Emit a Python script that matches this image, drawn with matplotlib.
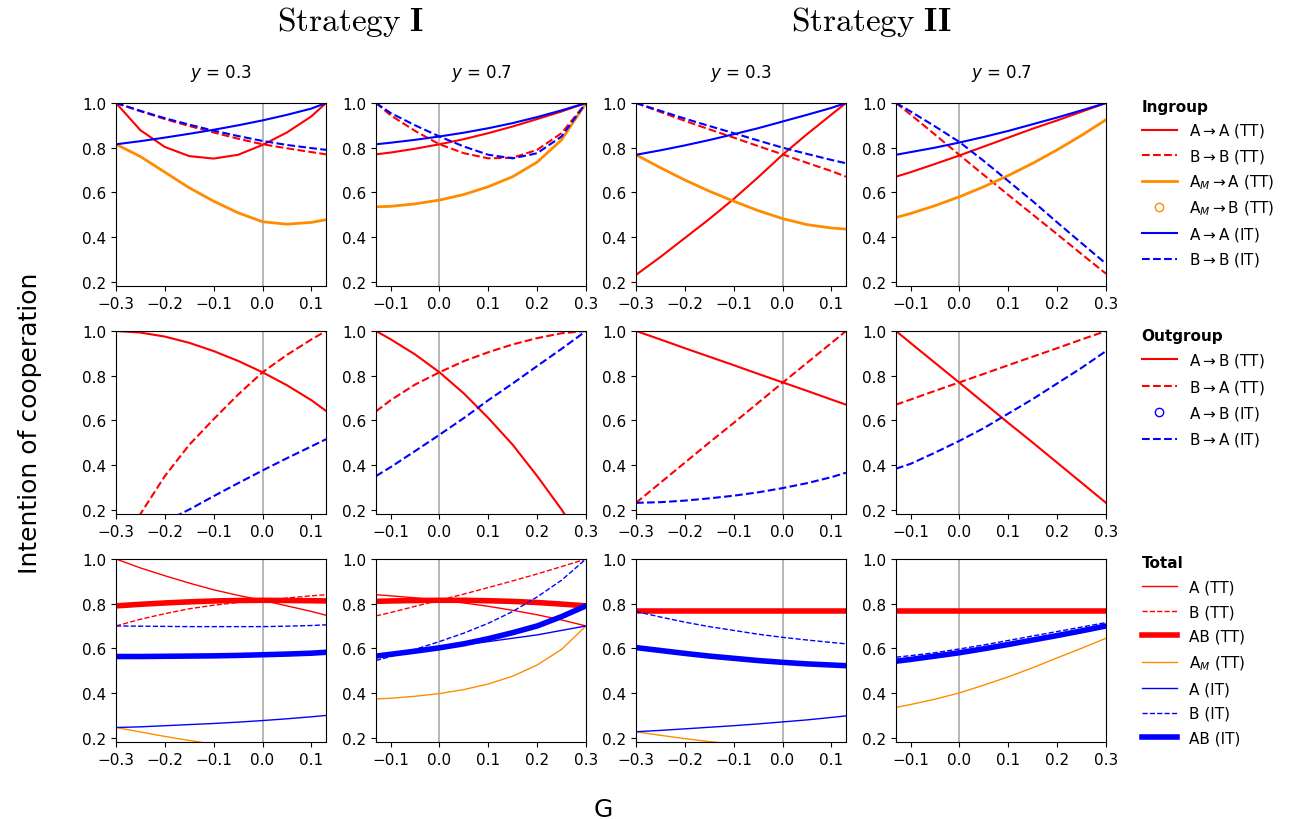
import matplotlib.pyplot as plt

# sample points along G for the two kinds of columns
XL = [-0.3, -0.25, -0.2, -0.15, -0.1, -0.05, 0.0, 0.05, 0.1, 0.13]
XR = [-0.13, -0.1, -0.05, 0.0, 0.05, 0.1, 0.15, 0.2, 0.25, 0.3]

col_titles = ['$y$ = 0.3', '$y$ = 0.7', '$y$ = 0.3', '$y$ = 0.7']
xticks_l = [-0.3, -0.2, -0.1, 0.0, 0.1]
xticks_r = [-0.1, 0.0, 0.1, 0.2, 0.3]
yticks = [0.2, 0.4, 0.6, 0.8, 1.0]

# ---- ingroup (row 1) ----
in1_aa_tt = [1.0, 0.878, 0.803, 0.762, 0.751, 0.768, 0.812, 0.868, 0.94, 1.0]
in1_bb_tt = [1.0, 0.963, 0.928, 0.897, 0.868, 0.84, 0.815, 0.797, 0.78, 0.77]
in1_ama_tt = [0.815, 0.76, 0.69, 0.62, 0.56, 0.508, 0.468, 0.457, 0.465, 0.477]
in1_aa_it = [0.815, 0.829, 0.845, 0.862, 0.88, 0.9, 0.922, 0.947, 0.975, 1.0]
in1_bb_it = [1.0, 0.965, 0.932, 0.903, 0.876, 0.852, 0.83, 0.812, 0.798, 0.79]

in2_aa_tt = [0.77, 0.778, 0.795, 0.815, 0.838, 0.865, 0.895, 0.928, 0.962, 1.0]
in2_bb_tt = [1.0, 0.945, 0.875, 0.815, 0.775, 0.752, 0.755, 0.79, 0.865, 1.0]
in2_ama_tt = [0.535, 0.537, 0.548, 0.565, 0.59, 0.625, 0.67, 0.735, 0.835, 1.0]
in2_aa_it = [0.815, 0.822, 0.835, 0.85, 0.867, 0.887, 0.91, 0.937, 0.967, 1.0]
in2_bb_it = [1.0, 0.955, 0.9, 0.85, 0.805, 0.768, 0.752, 0.775, 0.85, 1.0]

in3_aa_tt = [0.23, 0.31, 0.395, 0.48, 0.57, 0.667, 0.768, 0.86, 0.948, 1.0]
in3_bb_tt = [1.0, 0.96, 0.92, 0.882, 0.845, 0.807, 0.77, 0.732, 0.695, 0.67]
in3_ama_tt = [0.768, 0.71, 0.655, 0.605, 0.56, 0.518, 0.482, 0.455, 0.44, 0.435]
in3_aa_it = [0.768, 0.788, 0.81, 0.834, 0.86, 0.887, 0.917, 0.947, 0.978, 1.0]
in3_bb_it = [1.0, 0.965, 0.93, 0.897, 0.865, 0.832, 0.80, 0.772, 0.745, 0.73]

in4_aa_tt = [0.67, 0.69, 0.727, 0.765, 0.805, 0.845, 0.885, 0.922, 0.961, 1.0]
in4_bb_tt = [1.0, 0.948, 0.858, 0.767, 0.677, 0.588, 0.5, 0.412, 0.323, 0.235]
in4_ama_tt = [0.487, 0.505, 0.54, 0.58, 0.625, 0.675, 0.73, 0.79, 0.855, 0.925]
in4_aa_it = [0.768, 0.78, 0.8, 0.823, 0.848, 0.875, 0.905, 0.935, 0.967, 1.0]
in4_bb_it = [1.0, 0.962, 0.895, 0.825, 0.74, 0.65, 0.56, 0.465, 0.372, 0.28]

# ---- outgroup (row 2) ----
out1_ab_tt = [1.0, 0.993, 0.975, 0.947, 0.91, 0.866, 0.815, 0.757, 0.69, 0.642]
out1_ba_tt = [0.0, 0.18, 0.35, 0.49, 0.605, 0.715, 0.815, 0.893, 0.962, 1.0]
out1_ba_it = [0.03, 0.09, 0.145, 0.2, 0.26, 0.318, 0.375, 0.43, 0.483, 0.515]

out2_ab_tt = [1.0, 0.963, 0.895, 0.815, 0.72, 0.61, 0.49, 0.35, 0.2, 0.03]
out2_ba_tt = [0.64, 0.69, 0.76, 0.815, 0.865, 0.905, 0.94, 0.968, 0.99, 1.0]
out2_ba_it = [0.35, 0.39, 0.462, 0.535, 0.61, 0.69, 0.765, 0.843, 0.92, 1.0]

out3_ab_tt = [1.0, 0.962, 0.923, 0.885, 0.847, 0.808, 0.77, 0.732, 0.693, 0.67]
out3_ba_tt = [0.23, 0.32, 0.41, 0.5, 0.588, 0.678, 0.768, 0.857, 0.946, 1.0]
out3_ba_it = [0.23, 0.233, 0.24, 0.25, 0.262, 0.277, 0.296, 0.318, 0.345, 0.365]

out4_ab_tt = [1.0, 0.946, 0.857, 0.768, 0.678, 0.588, 0.5, 0.41, 0.32, 0.23]
out4_ba_tt = [0.67, 0.693, 0.732, 0.77, 0.808, 0.847, 0.885, 0.923, 0.962, 1.0]
out4_ba_it = [0.383, 0.405, 0.455, 0.508, 0.565, 0.63, 0.695, 0.765, 0.835, 0.91]

# ---- total (row 3) ----
tot1_a_tt = [1.0, 0.96, 0.925, 0.892, 0.862, 0.837, 0.815, 0.79, 0.765, 0.748]
tot1_b_tt = [0.70, 0.73, 0.755, 0.777, 0.793, 0.805, 0.815, 0.825, 0.835, 0.84]
tot1_ab_tt = [0.79, 0.797, 0.803, 0.808, 0.812, 0.814, 0.815, 0.814, 0.813, 0.812]
tot1_am_tt = [0.245, 0.225, 0.205, 0.187, 0.17, 0.155, 0.14, 0.125, 0.112, 0.105]
tot1_a_it = [0.245, 0.248, 0.253, 0.258, 0.263, 0.269, 0.276, 0.284, 0.293, 0.299]
tot1_b_it = [0.70, 0.699, 0.698, 0.697, 0.697, 0.697, 0.697, 0.699, 0.702, 0.705]
tot1_ab_it = [0.563, 0.563, 0.564, 0.565, 0.566, 0.568, 0.571, 0.574, 0.578, 0.582]

tot2_a_tt = [0.84, 0.835, 0.826, 0.816, 0.803, 0.788, 0.77, 0.75, 0.727, 0.70]
tot2_b_tt = [0.745, 0.76, 0.788, 0.815, 0.843, 0.872, 0.902, 0.933, 0.966, 1.0]
tot2_ab_tt = [0.81, 0.812, 0.814, 0.815, 0.815, 0.813, 0.81, 0.805, 0.798, 0.79]
tot2_am_tt = [0.373, 0.376, 0.385, 0.397, 0.415, 0.44, 0.475, 0.525, 0.595, 0.70]
tot2_a_it = [0.563, 0.571, 0.585, 0.6, 0.615, 0.63, 0.645, 0.66, 0.68, 0.70]
tot2_b_it = [0.545, 0.563, 0.595, 0.63, 0.668, 0.712, 0.765, 0.83, 0.905, 1.0]
tot2_ab_it = [0.565, 0.573, 0.587, 0.602, 0.62, 0.643, 0.67, 0.70, 0.742, 0.79]

tot3_a_tt = [0.765, 0.765, 0.765, 0.765, 0.765, 0.765, 0.765, 0.765, 0.765, 0.765]
tot3_b_tt = [0.765, 0.765, 0.765, 0.765, 0.765, 0.765, 0.765, 0.765, 0.765, 0.765]
tot3_ab_tt = [0.765, 0.765, 0.765, 0.765, 0.765, 0.765, 0.765, 0.765, 0.765, 0.765]
tot3_am_tt = [0.226, 0.21, 0.195, 0.182, 0.17, 0.158, 0.147, 0.137, 0.128, 0.123]
tot3_a_it = [0.226, 0.232, 0.239, 0.246, 0.253, 0.261, 0.27, 0.279, 0.29, 0.297]
tot3_b_it = [0.765, 0.74, 0.717, 0.697, 0.68, 0.663, 0.649, 0.637, 0.626, 0.62]
tot3_ab_it = [0.603, 0.59, 0.577, 0.565, 0.555, 0.545, 0.537, 0.53, 0.525, 0.522]

tot4_a_tt = [0.765, 0.765, 0.765, 0.765, 0.765, 0.765, 0.765, 0.765, 0.765, 0.765]
tot4_b_tt = [0.765, 0.765, 0.765, 0.765, 0.765, 0.765, 0.765, 0.765, 0.765, 0.765]
tot4_ab_tt = [0.765, 0.765, 0.765, 0.765, 0.765, 0.765, 0.765, 0.765, 0.765, 0.765]
tot4_am_tt = [0.335, 0.348, 0.372, 0.4, 0.435, 0.472, 0.513, 0.557, 0.6, 0.645]
tot4_a_it = [0.542, 0.55, 0.565, 0.58, 0.598, 0.617, 0.637, 0.657, 0.678, 0.70]
tot4_b_it = [0.56, 0.567, 0.58, 0.597, 0.615, 0.635, 0.655, 0.675, 0.695, 0.715]
tot4_ab_it = [0.542, 0.55, 0.565, 0.58, 0.598, 0.617, 0.637, 0.657, 0.678, 0.70]

ingroup = [
    (in1_aa_tt, in1_bb_tt, in1_ama_tt, in1_aa_it, in1_bb_it),
    (in2_aa_tt, in2_bb_tt, in2_ama_tt, in2_aa_it, in2_bb_it),
    (in3_aa_tt, in3_bb_tt, in3_ama_tt, in3_aa_it, in3_bb_it),
    (in4_aa_tt, in4_bb_tt, in4_ama_tt, in4_aa_it, in4_bb_it),
]
outgroup = [
    (out1_ab_tt, out1_ba_tt, out1_ba_it),
    (out2_ab_tt, out2_ba_tt, out2_ba_it),
    (out3_ab_tt, out3_ba_tt, out3_ba_it),
    (out4_ab_tt, out4_ba_tt, out4_ba_it),
]
total = [
    (tot1_a_tt, tot1_b_tt, tot1_ab_tt, tot1_am_tt, tot1_a_it, tot1_b_it, tot1_ab_it),
    (tot2_a_tt, tot2_b_tt, tot2_ab_tt, tot2_am_tt, tot2_a_it, tot2_b_it, tot2_ab_it),
    (tot3_a_tt, tot3_b_tt, tot3_ab_tt, tot3_am_tt, tot3_a_it, tot3_b_it, tot3_ab_it),
    (tot4_a_tt, tot4_b_tt, tot4_ab_tt, tot4_am_tt, tot4_a_it, tot4_b_it, tot4_ab_it),
]

ORANGE = 'darkorange'
W, H = 1292, 820
fig = plt.figure(figsize=(W / 100, H / 100), dpi=100)

lefts = [116, 376, 636, 896]
tops = [104, 332, 560]
aw, ah = 210, 183


def make_ax(r, c):
    ax = fig.add_axes([lefts[c] / W, 1 - (tops[r] + ah) / H, aw / W, ah / H])
    x = XL if c % 2 == 0 else XR
    ax.set_xlim(x[0], x[-1])
    ax.set_ylim(0.18, 1.0)
    ax.set_xticks(xticks_l if c % 2 == 0 else xticks_r)
    ax.set_yticks(yticks)
    ax.tick_params(labelsize=11)
    ax.axvline(0, color='#aaaaaa', lw=1.2, zorder=0)
    return ax, x


def add_legend(ax, title, top, spacing):
    ax.legend(loc='upper left', bbox_to_anchor=(1128 / W, 1 - top / H),
              bbox_transform=fig.transFigure, frameon=False, fontsize=11,
              title=title, title_fontproperties={'weight': 'bold', 'size': 11},
              alignment='left', handlelength=2.3, labelspacing=spacing)


# row 1
for c, (aa_tt, bb_tt, ama_tt, aa_it, bb_it) in enumerate(ingroup):
    ax, x = make_ax(0, c)
    ax.plot(x, aa_tt, color='red', lw=1.5, label='A$\\rightarrow$A (TT)')
    ax.plot(x, bb_tt, color='red', lw=1.5, ls='--', label='B$\\rightarrow$B (TT)')
    ax.plot(x, ama_tt, color=ORANGE, lw=2, label='A$_M\\rightarrow$A (TT)')
    ax.plot([], [], 'o', color=ORANGE, mfc='none', label='A$_M\\rightarrow$B (TT)')
    ax.plot(x, aa_it, color='blue', lw=1.5, label='A$\\rightarrow$A (IT)')
    ax.plot(x, bb_it, color='blue', lw=1.5, ls='--', label='B$\\rightarrow$B (IT)')
    fig.text((lefts[c] + aw / 2) / W, 1 - 73 / H, col_titles[c], fontsize=12,
             ha='center', va='center')
    if c == 3:
        add_legend(ax, 'Ingroup', 86, 0.5)

# row 2
for c, (ab_tt, ba_tt, ba_it) in enumerate(outgroup):
    ax, x = make_ax(1, c)
    ax.plot(x, ab_tt, color='red', lw=1.5, label='A$\\rightarrow$B (TT)')
    ax.plot(x, ba_tt, color='red', lw=1.5, ls='--', label='B$\\rightarrow$A (TT)')
    ax.plot([], [], 'o', color='blue', mfc='none', label='A$\\rightarrow$B (IT)')
    ax.plot(x, ba_it, color='blue', lw=1.5, ls='--', label='B$\\rightarrow$A (IT)')
    if c == 3:
        add_legend(ax, 'Outgroup', 315, 0.55)

# row 3
for c, (a_tt, b_tt, ab_tt, am_tt, a_it, b_it, ab_it) in enumerate(total):
    ax, x = make_ax(2, c)
    ax.plot(x, a_tt, color='red', lw=1, label='A (TT)')
    ax.plot(x, b_tt, color='red', lw=1, ls='--', label='B (TT)')
    ax.plot(x, ab_tt, color='red', lw=4, label='AB (TT)')
    ax.plot(x, am_tt, color=ORANGE, lw=1, label='A$_M$ (TT)')
    ax.plot(x, a_it, color='blue', lw=1, label='A (IT)')
    ax.plot(x, b_it, color='blue', lw=1, ls='--', label='B (IT)')
    ax.plot(x, ab_it, color='blue', lw=4, label='AB (IT)')
    if c == 3:
        add_legend(ax, 'Total', 542, 0.63)

# strategy headers
fig.text((lefts[0] + lefts[1] + aw) / 2 / W, 1 - 22 / H,
         '$\\mathrm{Strategy}\\ \\mathbf{I}$', fontsize=24, ha='center',
         va='center', math_fontfamily='cm')
fig.text((lefts[2] + lefts[3] + aw) / 2 / W, 1 - 22 / H,
         '$\\mathrm{Strategy}\\ \\mathbf{II}$', fontsize=24, ha='center',
         va='center', math_fontfamily='cm')

fig.text(30 / W, 1 - 423 / H, 'Intention of cooperation', fontsize=18,
         rotation=90, ha='center', va='center')
fig.text(603 / W, 1 - 810 / H, 'G', fontsize=18, ha='center', va='center')

fig.savefig('out.png', dpi=100)
